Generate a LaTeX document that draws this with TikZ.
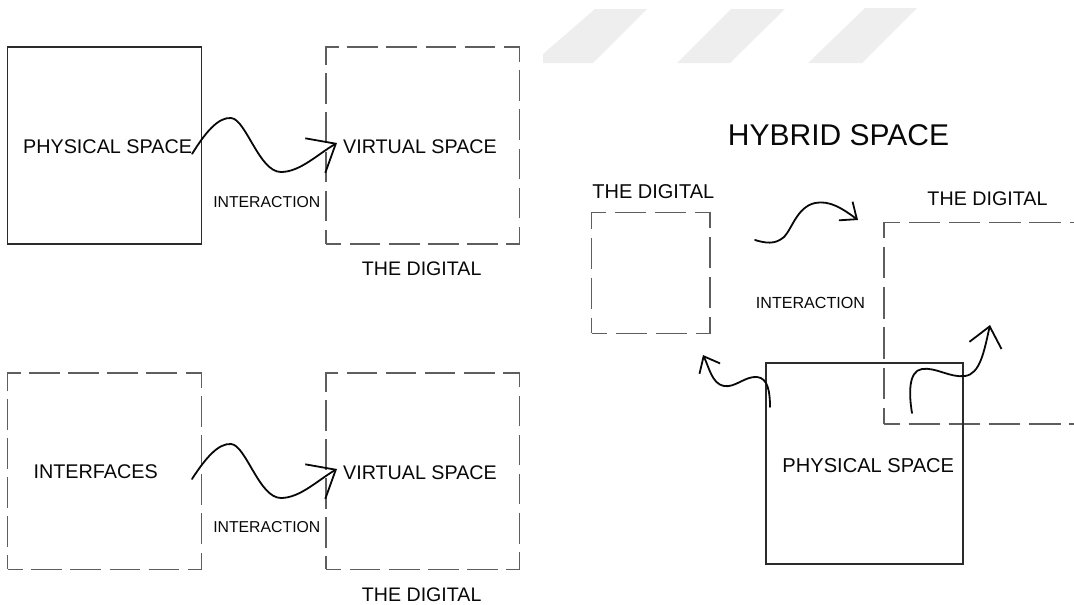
\documentclass[tikz,border=0pt]{standalone}
\usepackage{fontspec}
\setmainfont{Liberation Sans}
\usetikzlibrary{arrows.meta}
\definecolor{ink}{HTML}{080808}
\definecolor{framegray}{HTML}{2B2B2B}
\definecolor{dashgray}{HTML}{5E5E5E}
\definecolor{wmark}{HTML}{EEEEEE}

\begin{document}
\begin{tikzpicture}[x=1pt,y=-1pt,
  solidbox/.style={draw=framegray,line width=1.8pt,rectangle,inner sep=0pt,outer sep=0pt},
  dashbox/.style n args={3}{draw=dashgray,line width=1.5pt,rectangle,inner sep=0pt,outer sep=0pt,
    dash pattern=on #1pt off #2pt,dash phase=#3pt},
  label/.style={inner sep=0pt,outer sep=0pt,text=ink,font=\fontsize{#1pt}{#1pt}\selectfont},
  wave/.style={draw=ink,line width=1.8pt,line cap=round,line join=round},
  long barb/.style={-{Straight Barb[length=23.7pt,width=39.9pt]}},
  short barb/.style={-{Straight Barb[length=13.8pt,width=23.1pt]}},
  mid barb/.style={-{Straight Barb[length=19.5pt,width=32.8pt]}},
]
\useasboundingbox (0,0) rectangle (1074,605);
\clip (0,0) rectangle (1074,605);

% light slanted bands along the top edge
\fill[wmark] (543,63) -- (593,63) -- (647,9) -- (595,9) -- (543,54) -- cycle;
\fill[wmark] (677,63) -- (730,63) -- (785,9) -- (731,9) -- cycle;
\fill[wmark] (808,63) -- (862,63) -- (917,8) -- (865,8) -- cycle;

% ---- upper left: physical space -> virtual space
\node[solidbox,minimum width=194pt,minimum height=197pt] (boxA) at (104.5,145.5) {};
\node[dashbox={30.6}{8.5}{15.3},minimum width=193.5pt,minimum height=197pt] (boxB) at (422.75,145.5) {};
\node[label=19.8] (physA) at (107.6,147) {PHYSICAL SPACE};
\node[label=19.7] (virtA) at (420,147) {VIRTUAL SPACE};
\node[label=15.8] (interA) at (266.8,202.5) {INTERACTION};
\node[label=19.6] (digA) at (421.7,269) {THE DIGITAL};
\coordinate (tipA) at (337,143);
\draw[wave,long barb] (physA.base east)
  .. controls (205,133) and (218,117) .. (231,118)
  .. controls (246,119) and (259,172) .. (281,172)
  .. controls (300,172) and (318,154) .. (tipA);

% ---- lower left: interfaces -> virtual space
\node[dashbox={30.6}{8.5}{15.3},minimum width=194pt,minimum height=196.3pt] (boxC) at (104.5,471.15) {};
\node[dashbox={30.6}{8.5}{15.3},minimum width=193.5pt,minimum height=196.3pt] (boxD) at (422.75,471.15) {};
\node[label=19.8] (interfB) at (95.7,471.7) {INTERFACES};
\node[label=19.7] (virtB) at (420,472.5) {VIRTUAL SPACE};
\node[label=15.8] (interB) at (266.8,527.5) {INTERACTION};
\node[label=19.6] (digB) at (421.7,594.5) {THE DIGITAL};
\coordinate (startB) at (192,479);
\coordinate (tipB) at (337,469);
\draw[wave,long barb] (startB)
  .. controls (205,459) and (218,443) .. (231,444)
  .. controls (246,445) and (259,498) .. (281,498)
  .. controls (300,498) and (318,480) .. (tipB);

% ---- right: hybrid space
\node[label=30] (hybrid) at (838.5,135.3) {HYBRID SPACE};
\node[label=20] (digC) at (653.3,191.7) {THE DIGITAL};
\node[label=19.7] (digD) at (987.5,198.3) {THE DIGITAL};
\node[label=16.1] (interC) at (810.5,302.5) {INTERACTION};
\node[dashbox={31}{8.8}{15.5},minimum width=118.3pt,minimum height=120.6pt] (boxE) at (650.85,273) {};
\node[dashbox={31.4}{8.8}{15.7},minimum width=201pt,minimum height=201.3pt] (boxF) at (984.5,323.35) {};
\node[solidbox,minimum width=196.7pt,minimum height=201pt] (boxG) at (864.35,463.8) {};
\node[label=20.1] (physC) at (868.3,465.5) {PHYSICAL SPACE};

\coordinate (startC) at (755,240);
\coordinate (tipC) at (858,220);
\draw[wave,short barb] (startC)
  .. controls (765,243) and (775,245) .. (784,237)
  .. controls (792,229) and (797,207) .. (815,203)
  .. controls (830,200) and (843,209) .. (tipC);

\coordinate (startD) at (770,407);
\coordinate (tipD) at (703,355);
\draw[wave,short barb] (startD)
  .. controls (770,392) and (768,378) .. (757,377)
  .. controls (745,376) and (735,388) .. (724,386)
  .. controls (712,384) and (709,367) .. (tipD);

\coordinate (startE) at (912,413);
\coordinate (tipE) at (990,325);
\draw[wave,mid barb] (startE)
  .. controls (909,395) and (908,371) .. (922,369)
  .. controls (936,367) and (950,378) .. (965,376)
  .. controls (980,374) and (984,352) .. (tipE);
\end{tikzpicture}
\end{document}
